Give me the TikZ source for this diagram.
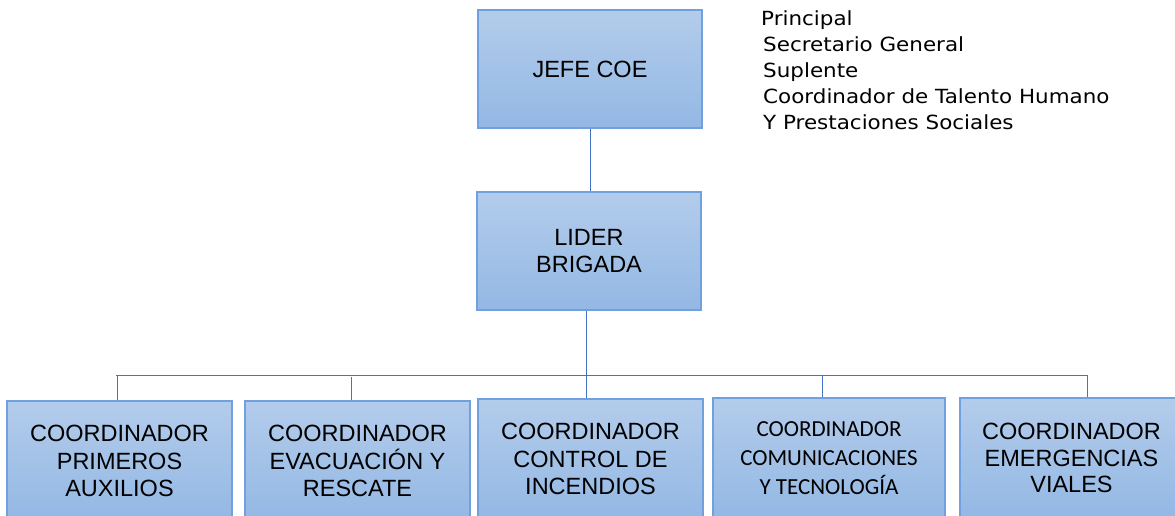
\documentclass[tikz,border=0pt]{standalone}
\usepackage{fontspec}
\setmainfont{Liberation Sans}
\newfontfamily\verdfont[FakeStretch=1.1]{DejaVu Sans}
\newfontfamily\calibfont{Carlito}
\definecolor{boxtop}{RGB}{179,204,235}
\definecolor{boxbot}{RGB}{147,184,228}
\definecolor{boxedge}{RGB}{112,160,222}
\definecolor{conn}{RGB}{68,114,196}
\begin{document}
\begin{tikzpicture}[x=1pt,y=-1pt,
  box/.style={rectangle, draw=boxedge, line width=1.3pt, top color=boxtop, bottom color=boxbot,
    inner sep=0pt, align=center, font=\fontsize{23.5}{27.5}\selectfont},
  link/.style={draw=conn, line width=1pt},
  roletext/.style={anchor=base west, inner sep=0pt, font=\verdfont\fontsize{19.5}{24}\selectfont}]
\useasboundingbox (0,0) rectangle (1175,516);
\clip (0,0) rectangle (1175,516);

\node[box, minimum width=224, minimum height=118] (jefe) at (590,69) {JEFE COE};
\node[box, minimum width=224, minimum height=118] (lider) at (589,251) {LIDER\\BRIGADA};

\node[box, minimum width=225, minimum height=120] (b1) at (119.5,461) {COORDINADOR\\PRIMEROS\\AUXILIOS};
\node[box, minimum width=225, minimum height=120] (b2) at (357.5,461) {COORDINADOR\\EVACUACIÓN Y\\RESCATE};
\node[box, minimum width=225, minimum height=120] (b3) at (590.5,459) {COORDINADOR\\CONTROL DE\\INCENDIOS};
\node[box, minimum width=232, minimum height=120, font=\calibfont\fontsize{23}{29}\selectfont] (b4) at (829,458) {COORDINADOR\\COMUNICACIONES\\Y TECNOLOGÍA};
\node[box, minimum width=223, minimum height=120, font=\fontsize{23.5}{26.8}\selectfont] (b5) at (1071.5,458) {COORDINADOR\\EMERGENCIAS\\VIALES};

\node[roletext] (r1) at (761,25.7) {Principal};
\node[roletext] (r2) at (763,51.7) {Secretario General};
\node[roletext] (r3) at (763,77.7) {Suplente};
\node[roletext] (r4) at (763,103.7) {Coordinador de Talento Humano};
\node[roletext] (r5) at (763,129.7) {Y Prestaciones Sociales};

\coordinate (busL) at (116,375);
\coordinate (busR) at (1087,375);
\coordinate (busC) at (586,375);
\coordinate (d1) at (117,375);
\coordinate (d2) at (351,377);
\coordinate (d3) at (586,375);
\coordinate (d4) at (822,375);
\coordinate (d5) at (1087,375);

\draw[link] (jefe.south) -- (jefe.south |- lider.north);
\draw[link] (lider.south -| busC) -- (busC);
\draw[link] (busL) -- (busR);
\draw[link] (d1) -- (d1 |- b1.north);
\draw[link] (d2) -- (d2 |- b2.north);
\draw[link] (d3) -- (d3 |- b3.north);
\draw[link] (d4) -- (d4 |- b4.north);
\draw[link] (d5) -- (d5 |- b5.north);
\end{tikzpicture}
\end{document}
